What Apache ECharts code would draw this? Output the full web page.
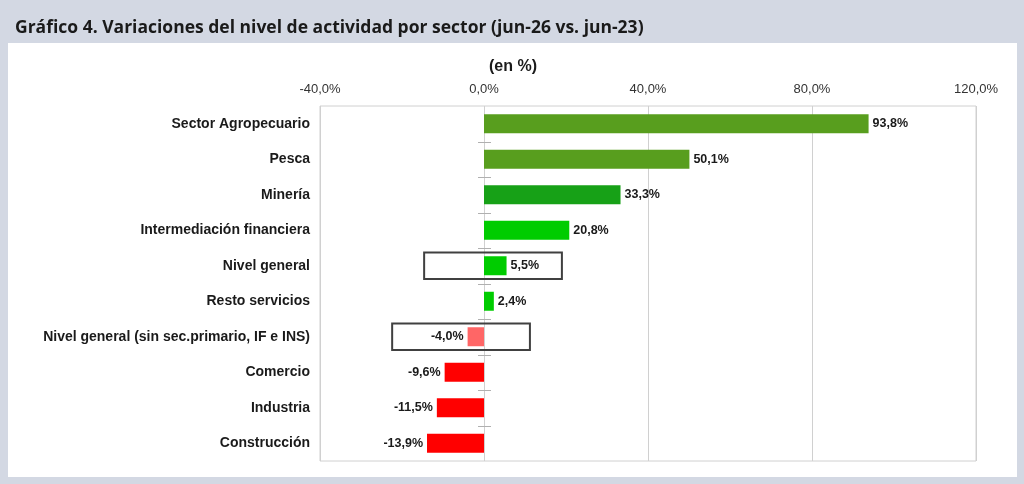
<!DOCTYPE html>
<html><head><meta charset="utf-8">
<script src="https://cdn.jsdelivr.net/npm/echarts@6/dist/echarts.min.js"></script>
<style>html,body{margin:0;padding:0;background:#d3d8e3;}#c{width:1024px;height:484px;}</style>
</head><body><div id="c"></div>
<script>
// ---- data ----
const categories = ['Sector Agropecuario','Pesca','Minería','Intermediación financiera','Nivel general','Resto servicios','Nivel general (sin sec.primario, IF e INS)','Comercio','Industria','Construcción'];
const values = [93.8, 50.1, 33.3, 20.8, 5.5, 2.4, -4.0, -9.6, -11.5, -13.9];
const axisTicks = [-40, 0, 40, 80, 120];
// highlighted rows: [from %, to %, category]
const highlightBoxes = [[-14.6, 19.0, 'Nivel general'], [-22.4, 11.2, 'Nivel general (sin sec.primario, IF e INS)']];

// ---- styles ----
const barColors = ['#589e1e','#589e1e','#17a117','#00cc00','#00cc00','#00cc00','#ff6666','#ff0000','#ff0000','#ff0000'];
const fmt = v => v.toFixed(1).replace('.', ',') + '%';

const chart = echarts.init(document.getElementById('c'));
chart.setOption({
  backgroundColor: '#d3d8e3',
  animation: false,
  graphic: [
    {type:'rect', shape:{x:8,y:43,width:1009,height:434}, style:{fill:'#ffffff'}, z:-10, silent:true},
    {type:'text', x:513, y:67, style:{text:'(en %)', textAlign:'center', textVerticalAlign:'middle',
      font:'bold 16px "Liberation Sans"', fill:'#1a1a1a'}, silent:true}
  ],
  title: [
    {text:'Gráfico 4. Variaciones del nivel de actividad por sector (jun-26 vs. jun-23)', left:10, top:14,
     textStyle:{fontFamily:'Open Sans', fontWeight:'bold', fontSize:17.5, color:'#1a1a1a'}}
  ],
  grid: {left:320, right:48, top:106, bottom:23, show:true, borderColor:'#d0d0d0', borderWidth:1, backgroundColor:'transparent'},
  xAxis: {
    type:'value', position:'top', min:axisTicks[0], max:axisTicks[axisTicks.length-1], interval:40,
    axisLine:{show:false}, axisTick:{show:false},
    splitLine:{lineStyle:{color:'#d0d0d0'}},
    axisLabel:{formatter: v => fmt(v), fontFamily:'Liberation Sans', fontSize:13, color:'#333', margin:10}
  },
  yAxis: {type:'category', data:categories, inverse:true,
     axisLine:{show:false, onZero:false}, axisTick:{show:false},
     axisLabel:{fontFamily:'Liberation Sans', fontWeight:'bold', fontSize:14, color:'#1a1a1a', margin:10}},
  series: [
    // category boundary ticks crossing the zero line
    {type:'custom', z:2, silent:true,
     data: categories.slice(1).map((c, i) => [0, i + 1]),
     encode:{x:0, y:1},
     renderItem:(params, api) => {
       const p = api.coord([0, api.value(1)]);
       const h = api.size([0,1])[1];
       const y = Math.round(p[1] - h/2) + 0.5;
       return {type:'line', shape:{x1:p[0]-6, y1:y, x2:p[0]+7, y2:y}, style:{stroke:'#b0b0b0', lineWidth:1}};
     }},
    {type:'custom', z:1, silent:true,
     data: highlightBoxes.map(b => [b[0], b[1], categories.indexOf(b[2])]),
     encode:{x:[0,1], y:2},
     renderItem:(params, api) => {
       const p0 = api.coord([api.value(0), api.value(2)]);
       const p1 = api.coord([api.value(1), api.value(2)]);
       const h = api.size([0,1])[1] * 0.74;
       return {type:'rect', shape:{x:p0[0], y:p0[1]-h/2, width:p1[0]-p0[0], height:h},
               style:{fill:'none', stroke:'#404040', lineWidth:2}};
     }},
    {type:'bar', z:3, barWidth:19,
     data: values.map((v,i) => ({value:v, itemStyle:{color:barColors[i]}, label:{position: v < 0 ? 'left' : 'right'}})),
     label:{show:true, formatter: p => fmt(p.value), fontFamily:'Liberation Sans', fontWeight:'bold', fontSize:12.5, color:'#1a1a1a', distance:4}}
  ]
});
</script></body></html>
